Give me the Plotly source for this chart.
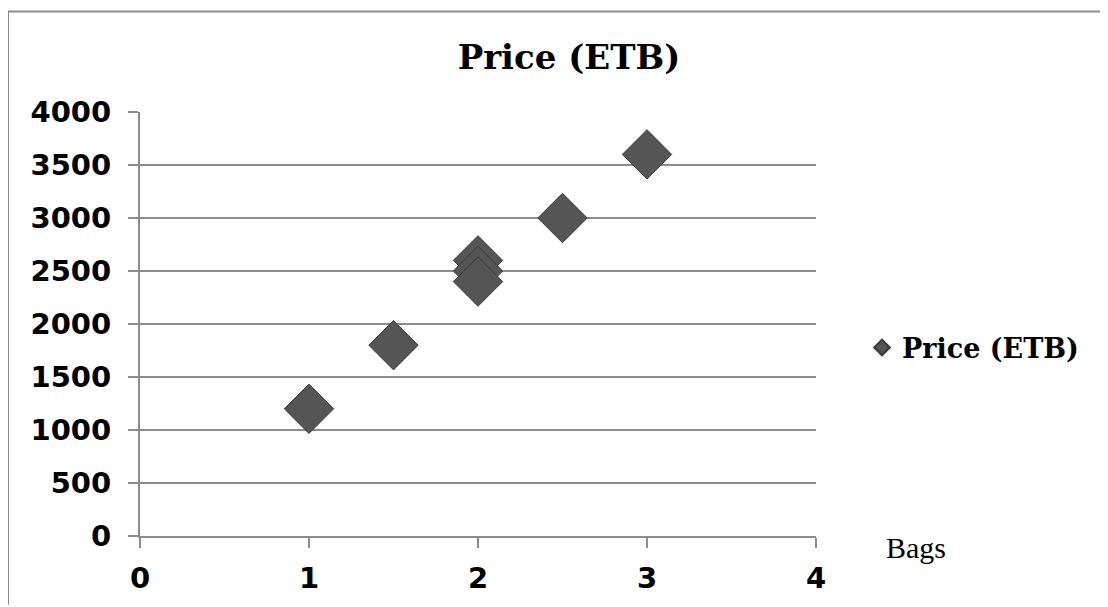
import plotly.graph_objects as go

bags = [1, 1.5, 2, 2, 2, 2.5, 3]
price = [1200, 1800, 2600, 2500, 2400, 3000, 3600]
series_name = "Price (ETB)"
x_ticks = [0, 1, 2, 3, 4]
y_ticks = [0, 500, 1000, 1500, 2000, 2500, 3000, 3500, 4000]

OFF = 8  # page body margin offset
W, H = 1108 - OFF, 607 - OFF
L, R, T, B = 140 - OFF, 816 - OFF, 112 - OFF, 538 - OFF


def px_x(p):
    return (p - OFF - L) / (R - L)


def px_y(p):
    return (B - (p - OFF)) / (B - T)


fig = go.Figure()
fig.add_trace(go.Scatter(
    x=bags, y=price, mode="markers", name=series_name,
    marker=dict(symbol="diamond", size=38, color="#555555",
                line=dict(color="#3a3a3a", width=1)),
))

fig.update_layout(
    width=W, height=H,
    margin=dict(l=L, r=W - R, t=T, b=H - B, pad=0),
    paper_bgcolor="white", plot_bgcolor="white",
    title=dict(text="Price (ETB)", x=(569 - OFF) / W, xanchor="center",
               y=1 - (57 - OFF) / H, yanchor="middle",
               font=dict(family="DejaVu Serif", size=34, weight="bold", color="black")),
    showlegend=True,
    legend=dict(x=px_x(862), xanchor="left", y=px_y(349), yanchor="middle",
                font=dict(family="DejaVu Serif", size=27, weight="bold", color="black"),
                itemsizing="constant", bgcolor="rgba(0,0,0,0)"),
    xaxis=dict(range=[0, 4], tickvals=x_ticks, showgrid=False, zeroline=False,
               showline=True, linecolor="#8c8c8c", linewidth=2,
               ticks="outside", ticklen=10, tickcolor="#8c8c8c", tickwidth=2,
               ticklabelstandoff=5,
               tickfont=dict(family="DejaVu Sans", size=29, weight="bold", color="black")),
    yaxis=dict(range=[0, 4000], tickvals=y_ticks, showgrid=True, gridcolor="#8c8c8c", gridwidth=2,
               zeroline=False, showline=True, linecolor="#8c8c8c", linewidth=2,
               ticks="outside", ticklen=10, tickcolor="#8c8c8c", tickwidth=2,
               ticklabelstandoff=11,
               tickfont=dict(family="DejaVu Sans", size=29, weight="bold", color="black")),
)

fig.add_annotation(text="Bags", xref="paper", yref="paper",
                   x=px_x(916), y=px_y(550),
                   xanchor="center", yanchor="middle", showarrow=False,
                   font=dict(family="Liberation Serif", size=30, color="black"))

# chart border (top and left edges visible)
fig.add_shape(type="line", xref="paper", yref="paper",
              x0=px_x(8), x1=px_x(1108), y0=px_y(11), y1=px_y(11),
              line=dict(color="#8c8c8c", width=2))
fig.add_shape(type="line", xref="paper", yref="paper",
              x0=px_x(8), x1=px_x(8), y0=px_y(11), y1=px_y(607),
              line=dict(color="#8c8c8c", width=2))

fig.write_html("out.html")
